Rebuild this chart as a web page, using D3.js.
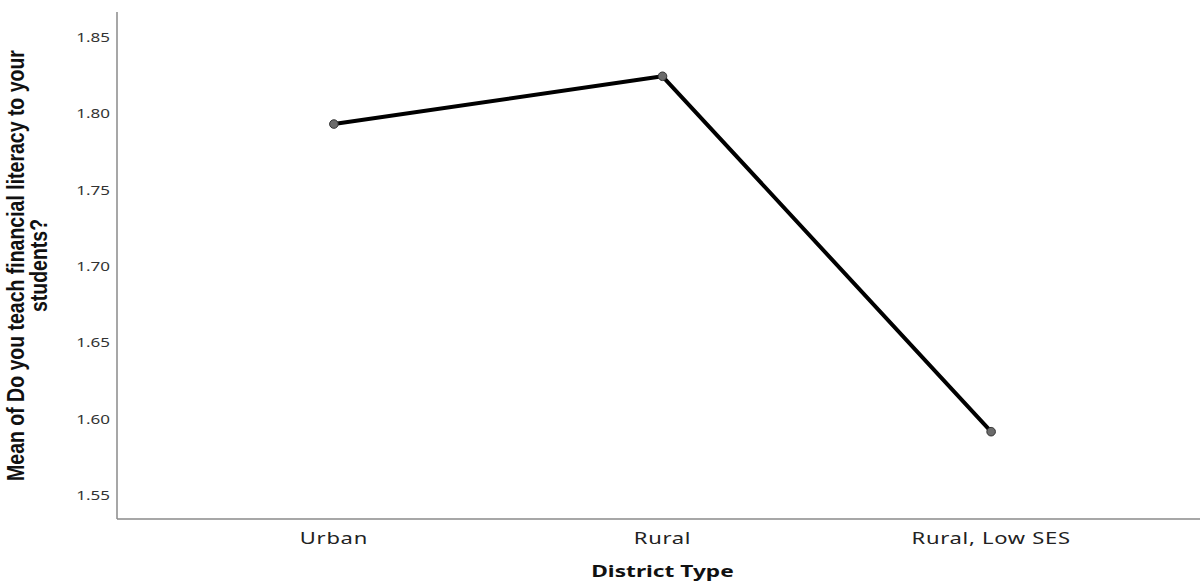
<!DOCTYPE html>
<html>
<head>
<meta charset="utf-8">
<script src="https://cdn.jsdelivr.net/npm/d3@7"></script>
<style>
  html, body { margin: 0; padding: 0; background: #fff; }
  svg { display: block; }
</style>
</head>
<body>
<svg id="chart" width="1200" height="583"></svg>
<script>
// ---- data ----
const categories = ["Urban", "Rural", "Rural, Low SES"];
const meanValues = [1.793, 1.8243, 1.5915];
const yTickValues = [1.55, 1.60, 1.65, 1.70, 1.75, 1.80, 1.85];
const yTitleLines = ["Mean of Do you teach financial literacy to your", "students?"];
const xTitle = "District Type";

// ---- layout ----
const W = 1200, H = 583;
const plotLeft = 117, plotRight = 1200, plotTop = 12, plotBottom = 519;
const sx = 1.42; // horizontal stretch of the exported picture

const svg = d3.select("#chart");

const x = d3.scalePoint().domain(categories).range([plotLeft, plotRight + 8]).padding(0.66);
const y = d3.scaleLinear().domain([1.5343, 1.8664]).range([plotBottom, plotTop]);

// axis lines
svg.append("line")
  .attr("x1", plotLeft).attr("x2", plotLeft).attr("y1", plotTop).attr("y2", plotBottom)
  .attr("stroke", "#8a8a8a").attr("stroke-width", 1.5);
svg.append("line")
  .attr("x1", plotLeft).attr("x2", plotRight).attr("y1", plotBottom).attr("y2", plotBottom)
  .attr("stroke", "#8a8a8a").attr("stroke-width", 1.5);

// y tick labels
svg.append("g").selectAll("text").data(yTickValues).join("text")
  .attr("transform", d => `translate(110,${y(d)}) scale(${sx},1)`)
  .attr("text-anchor", "end")
  .attr("dominant-baseline", "central")
  .attr("font-family", "Noto Sans, sans-serif")
  .attr("font-size", 12)
  .attr("fill", "#333")
  .text(d => d3.format(".2f")(d));

// x category labels
svg.append("g").selectAll("text").data(categories).join("text")
  .attr("transform", d => `translate(${x(d)},544) scale(${sx},1)`)
  .attr("text-anchor", "middle")
  .attr("font-family", "Noto Sans, sans-serif")
  .attr("font-size", 15.5)
  .attr("letter-spacing", 0.5)
  .attr("fill", "#222")
  .text(d => d);

// x title
svg.append("text")
  .attr("transform", `translate(${(plotLeft + plotRight) / 2 + 4},577) scale(${sx},1)`)
  .attr("text-anchor", "middle")
  .attr("font-family", "Noto Sans, sans-serif")
  .attr("font-weight", "bold")
  .attr("font-size", 16)
  .attr("fill", "#111")
  .text(xTitle);

// y title (two lines)
const cy = (plotTop + plotBottom) / 2;
svg.append("g").selectAll("text").data(yTitleLines).join("text")
  .attr("transform", (d, i) => `translate(${i === 0 ? 24 : 47},${cy}) scale(1.2,1) rotate(-90)`)
  .attr("text-anchor", "middle")
  .attr("font-family", "Liberation Sans, Arial, sans-serif")
  .attr("font-weight", "bold")
  .attr("font-size", 19.5)
  .attr("fill", "#111")
  .text(d => d);

// line
const pts = categories.map((c, i) => ({ c, v: meanValues[i] }));
svg.append("path")
  .datum(pts)
  .attr("d", d3.line().x(d => x(d.c)).y(d => y(d.v)))
  .attr("fill", "none")
  .attr("stroke", "#000")
  .attr("stroke-width", 4)
  .attr("stroke-linejoin", "round");

// markers
svg.append("g").selectAll("circle").data(pts).join("circle")
  .attr("cx", d => x(d.c))
  .attr("cy", d => y(d.v))
  .attr("r", 4.3)
  .attr("fill", "#6b6b6b")
  .attr("stroke", "#333")
  .attr("stroke-width", 1);
</script>
</body>
</html>
